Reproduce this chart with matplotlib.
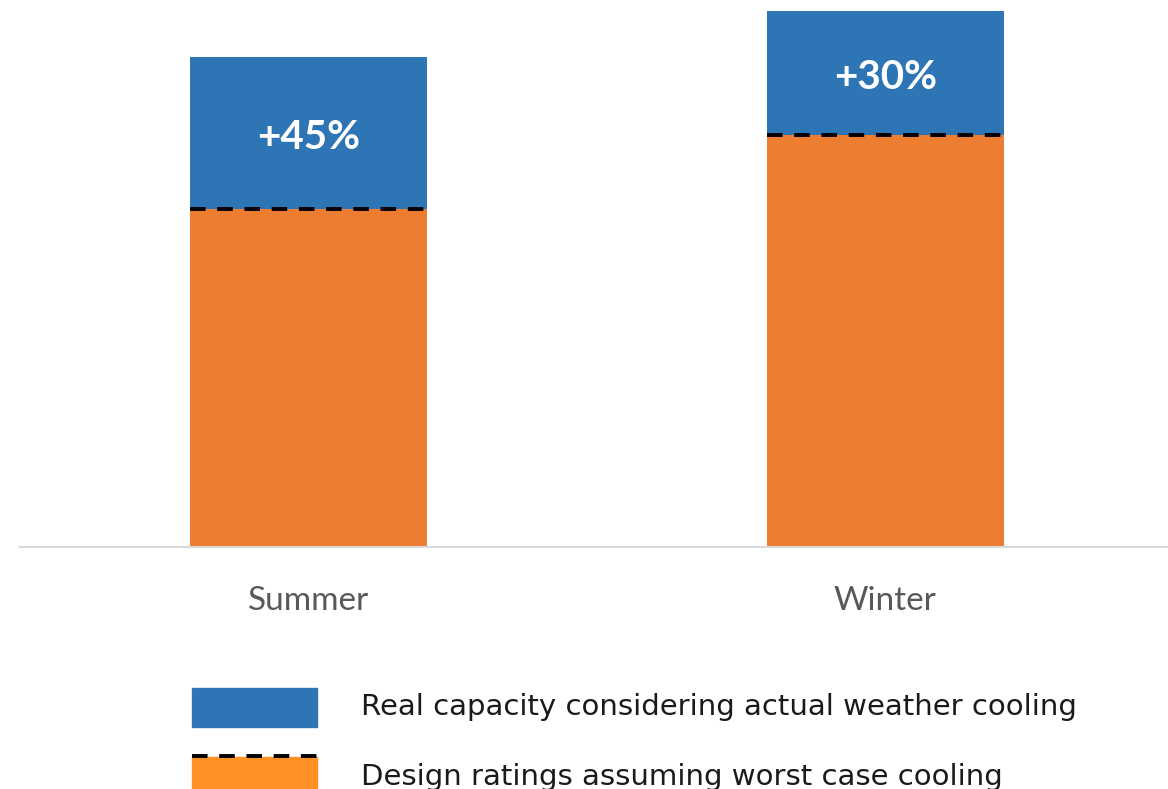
import matplotlib.pyplot as plt
from matplotlib.patches import Rectangle

seasons = ['Summer', 'Winter']
design_rating = [100, 122]     # worst-case cooling rating
uplift_pct = [45, 30]          # extra capacity from actual weather

real_extra = [d * p / 100 for d, p in zip(design_rating, uplift_pct)]

blue = '#2e75b6'
orange = '#ed7d31'
legend_orange = '#ff9124'

fig = plt.figure(figsize=(11.68, 7.89), dpi=100)
fig.set_facecolor('w')

ax = fig.add_axes([20 / 1168, 1 - 547 / 789, 1 - 20 / 1168, 547 / 789])
x = range(len(seasons))
ax.bar(x, design_rating, width=0.41, color=orange, zorder=2)
ax.bar(x, real_extra, width=0.41, bottom=design_rating, color=blue, zorder=2)

# dashed line marking the design rating on each bar
for i, d in zip(x, design_rating):
    ax.hlines(d, i - 0.205, i + 0.205, colors='black', lw=2.8,
              linestyles=(0, (4, 3)), zorder=3)

for i, d, e, p in zip(x, design_rating, real_extra, uplift_pct):
    ax.text(i, d + e / 2 - 1.2, '+{}%'.format(p), ha='center', va='center',
            color='white', fontsize=29, fontweight='bold',
            family='Lato', zorder=4)

ax.set_xlim(-0.5, 1.49)
ax.set_ylim(0, 162)
ax.set_yticks([])
ax.set_xticks(list(x))
ax.set_xticklabels(seasons, fontsize=24, color='#595959', family='Lato')
ax.tick_params(axis='x', length=0, pad=28)
for s in ['top', 'left', 'right']:
    ax.spines[s].set_visible(False)
ax.spines['bottom'].set_color('#d9d9d9')
ax.spines['bottom'].set_linewidth(1.5)

# legend drawn by hand in pixel coordinates
lg = fig.add_axes([0, 0, 1, 1], zorder=5)
lg.set_xlim(0, 1168)
lg.set_ylim(789, 0)
lg.axis('off')
lg.add_patch(Rectangle((192, 688), 125, 39, color=blue))
lg.add_patch(Rectangle((192, 757), 125, 40, color=legend_orange))
lg.plot([192, 317], [756, 756], color='black', lw=2.8, ls=(0, (4, 3)))
lg.text(361, 707, 'Real capacity considering actual weather cooling',
        va='center', ha='left', fontsize=21, color='#1a1a1a', family='DejaVu Sans')
lg.text(361, 777, 'Design ratings assuming worst case cooling',
        va='center', ha='left', fontsize=21, color='#1a1a1a', family='DejaVu Sans')

fig.savefig('out.png', dpi=100)
